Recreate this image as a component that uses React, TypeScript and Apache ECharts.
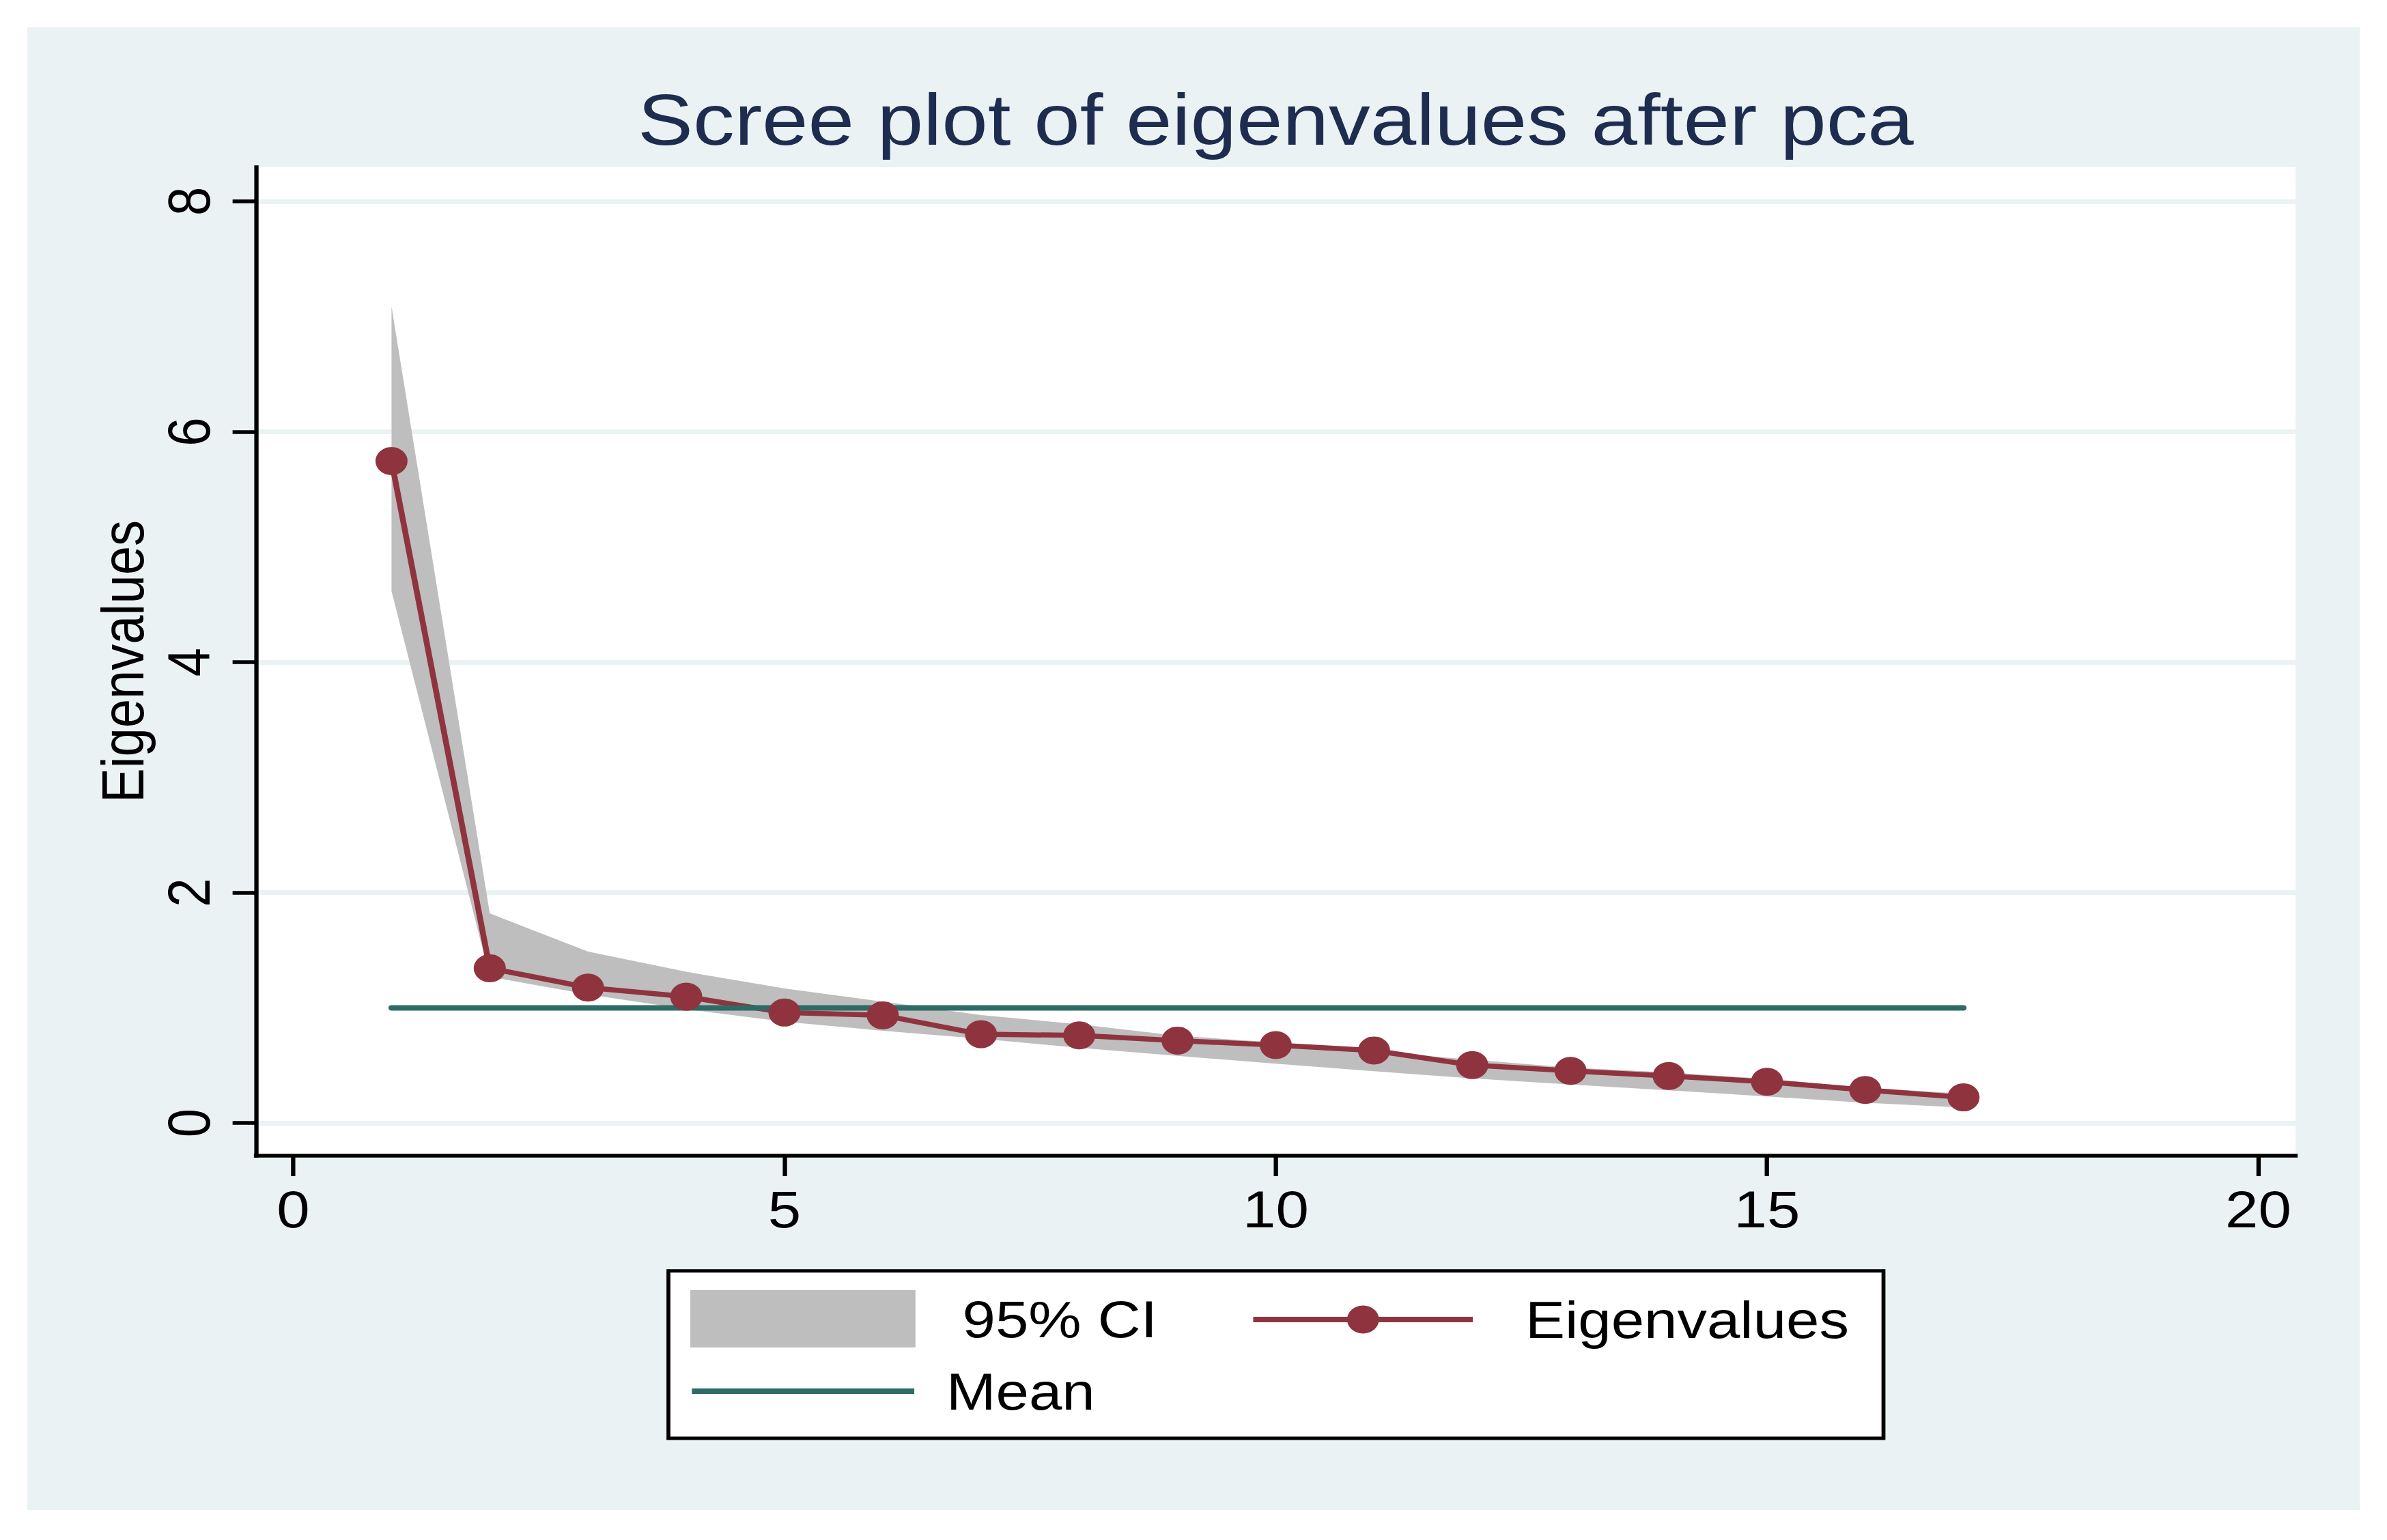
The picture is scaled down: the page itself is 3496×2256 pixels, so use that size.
import React, { useEffect, useRef } from 'react';
import * as echarts from 'echarts';

// ---- data ----
const components = [1, 2, 3, 4, 5, 6, 7, 8, 9, 10, 11, 12, 13, 14, 15, 16, 17];
const eigenvalues = [5.746, 1.344, 1.176, 1.097, 0.959, 0.935, 0.771, 0.761, 0.716, 0.677, 0.63, 0.503, 0.453, 0.409, 0.358, 0.287, 0.223];
const ciUpper = [7.087, 1.82, 1.488, 1.313, 1.168, 1.055, 0.937, 0.858, 0.758, 0.7, 0.62, 0.551, 0.482, 0.44, 0.384, 0.308, 0.255];
const ciLower = [4.617, 1.27, 1.117, 0.989, 0.88, 0.801, 0.732, 0.653, 0.584, 0.515, 0.45, 0.388, 0.334, 0.285, 0.231, 0.176, 0.135];
const meanValue = 1;
const meanSpan = [1, 17];
const xTicks = [0, 5, 10, 15, 20];
const yTicks = [0, 2, 4, 6, 8];

const TITLE = 'Scree plot of eigenvalues after pca';
const FONT = "'Liberation Sans', Arial, Helvetica, sans-serif";
const S = 1.145; // horizontal stretch of the reference rendering
const W = 3496 / S;
const H = 2256;

const BG = '#EAF2F3';
const GRAY = '#BEBEBE';
const RED = '#8F343E';
const TEAL = '#2D6B64';
const NAVY = '#1E2C50';

export default function App() {
  const ref = useRef<HTMLDivElement>(null);

  useEffect(() => {
    if (!ref.current) return;
    const chart = echarts.init(ref.current, null, { renderer: 'svg', width: W, height: H });

    const ctx = document.createElement('canvas').getContext('2d');
    let tw = 1632;
    if (ctx) {
      ctx.font = `106px ${FONT}`;
      tw = ctx.measureText(TITLE).width;
    }
    const gridLeft = 327.5;
    const gridWidth = 2608.7;
    const gridCenter = gridLeft + gridWidth / 2;

    const axisCommon = {
      type: 'value' as const,
      axisLine: { show: true, onZero: false, lineStyle: { color: '#000', width: 5.5, cap: 'square' } },
      axisLabel: { fontSize: 76, color: '#000', fontFamily: FONT },
    };

    const option: any = {
      animation: false,
      backgroundColor: '#ffffff',
      textStyle: { fontFamily: FONT },
      title: {
        text: TITLE,
        left: gridCenter - tw / 2,
        top: 121.8,
        padding: 0,
        textStyle: { fontSize: 106, fontWeight: 'normal', color: NAVY, fontFamily: FONT },
      },
      graphic: [
        {
          type: 'rect',
          z: -1,
          silent: true,
          shape: { x: 40 / S, y: 40, width: (3456 - 40) / S, height: 2172 },
          style: { fill: BG },
        },
        {
          type: 'rect',
          z: 1,
          silent: true,
          shape: { x: 855, y: 1861.7, width: 1554.2, height: 245.3 },
          style: { fill: '#ffffff', stroke: '#000000', lineWidth: 5 },
        },
      ],
      grid: {
        left: gridLeft,
        top: 245,
        width: gridWidth,
        height: 1448,
        show: true,
        backgroundColor: '#ffffff',
        borderWidth: 0,
      },
      xAxis: {
        ...axisCommon,
        min: -0.379,
        max: 20.379,
        axisTick: { show: true, length: 30, customValues: xTicks, lineStyle: { color: '#000', width: 5.5 } },
        axisLabel: { ...axisCommon.axisLabel, customValues: xTicks, margin: 40 },
        splitLine: { show: false },
      },
      yAxis: {
        ...axisCommon,
        min: -0.283,
        max: 8.296,
        name: 'Eigenvalues',
        nameLocation: 'middle',
        nameRotate: 90,
        nameGap: 133,
        nameTextStyle: { fontSize: 76, color: '#000', fontFamily: FONT },
        axisTick: { show: true, length: 30, customValues: yTicks, lineStyle: { color: '#000', width: 5.5 } },
        axisLabel: { ...axisCommon.axisLabel, customValues: yTicks, rotate: 90, margin: 48 },
        splitLine: { show: true, lineStyle: { color: BG, width: 7 } },
      },
      legend: [
        {
          data: [{ name: '95% CI', icon: 'rect', itemStyle: { color: GRAY, borderWidth: 0 } }],
          left: 883,
          top: 1890,
          padding: 0,
          itemWidth: 288,
          itemHeight: 84,
          selectedMode: false,
          textStyle: { fontSize: 76, color: '#000', fontFamily: FONT, padding: [0, 0, 0, 55] },
        },
        {
          data: [{ name: 'Eigenvalues' }],
          left: 1599,
          top: 1895,
          padding: 0,
          itemWidth: 281,
          itemHeight: 51,
          selectedMode: false,
          lineStyle: { width: 8 },
          textStyle: { fontSize: 76, color: '#000', fontFamily: FONT, padding: [0, 0, 0, 62] },
        },
        {
          data: [{ name: 'Mean', icon: 'rect', itemStyle: { color: TEAL, borderWidth: 0 } }],
          left: 885,
          top: 2000,
          padding: 0,
          itemWidth: 284.5,
          itemHeight: 8,
          selectedMode: false,
          textStyle: { fontSize: 76, color: '#000', fontFamily: FONT, padding: [0, 0, 0, 36] },
        },
      ],
      series: [
        {
          type: 'custom',
          name: '95% CI',
          data: components.map((x, i) => [x, ciLower[i], ciUpper[i]]),
          encode: { x: 0, y: [1, 2] },
          itemStyle: { color: GRAY },
          silent: true,
          renderItem: (params: any, api: any) => {
            if (params.dataIndex !== 0) return null;
            const up = components.map((x, i) => api.coord([x, ciUpper[i]]));
            const lo = components.map((x, i) => api.coord([x, ciLower[i]])).reverse();
            return {
              type: 'polygon',
              shape: { points: up.concat(lo) },
              style: { fill: GRAY },
            };
          },
        },
        {
          type: 'line',
          name: 'Eigenvalues',
          data: components.map((x, i) => [x, eigenvalues[i]]),
          symbol: 'circle',
          symbolSize: 41,
          showSymbol: true,
          lineStyle: { color: RED, width: 7.5 },
          itemStyle: { color: RED, borderWidth: 0 },
          silent: true,
        },
        {
          type: 'line',
          name: 'Mean',
          data: meanSpan.map((x) => [x, meanValue]),
          symbol: 'none',
          lineStyle: { color: TEAL, width: 8, cap: 'round' },
          itemStyle: { color: TEAL },
          silent: true,
        },
      ],
    };

    chart.setOption(option);
    return () => chart.dispose();
  }, []);

  return (
    <div
      ref={ref}
      style={{
        position: 'absolute',
        left: 0,
        top: 0,
        width: W,
        height: H,
        transform: `scaleX(${S})`,
        transformOrigin: '0 0',
      }}
    />
  );
}
